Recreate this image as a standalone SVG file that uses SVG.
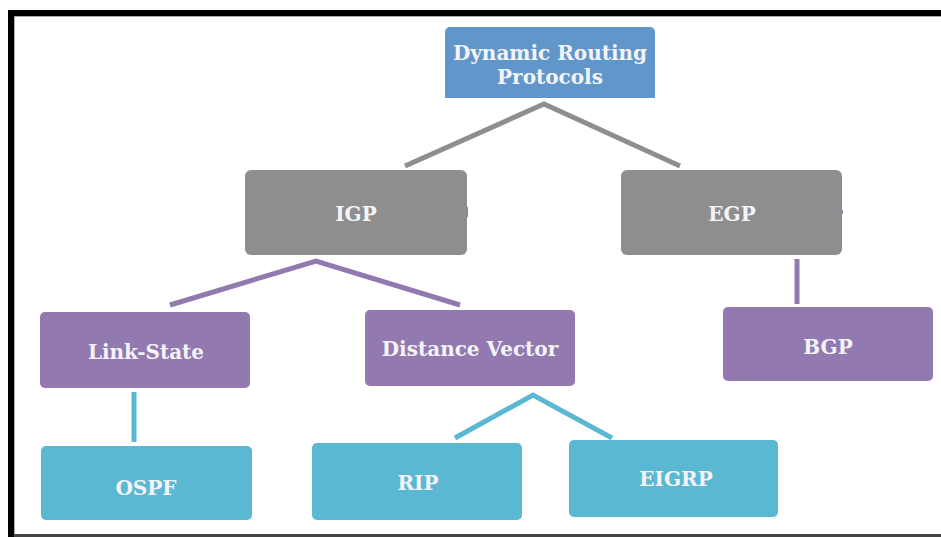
<svg xmlns="http://www.w3.org/2000/svg" width="941" height="537" viewBox="0 0 941 537">
<style>
  .t { font-family: "DejaVu Serif", "Liberation Serif", serif; font-size: 20px; font-weight: bold; fill: #f4f4f8; text-anchor: middle; dominant-baseline: central; }
  .blue { fill: #6096ca; }
  .gray { fill: #8e8e8e; }
  .purple { fill: #9279b0; }
  .cyan { fill: #5bb8d2; }
  .cg { stroke: #8e8e8e; stroke-width: 5; fill: none; }
  .cp { stroke: #9279b0; stroke-width: 5; fill: none; }
  .cc { stroke: #5bb8d2; stroke-width: 5; fill: none; }
</style>
<rect x="0" y="0" width="941" height="537" fill="#ffffff"/>
<g id="frame">
  <rect x="8" y="10" width="933" height="6" fill="#000"/>
  <rect x="8" y="10" width="6" height="527" fill="#000"/>
  <line x1="14" y1="16.5" x2="941" y2="16.5" stroke="#aaaaaa" stroke-width="1"/>
  <line x1="14.5" y1="16" x2="14.5" y2="537" stroke="#aaaaaa" stroke-width="1"/>
  <rect x="14" y="534" width="927" height="3" fill="#444444"/>
</g>
<g id="connectors">
  <polyline class="cg" points="405,166 544,104 680,166"/>
  <polyline class="cp" points="170,305 316,261 460,305"/>
  <line class="cp" x1="797" y1="259" x2="797" y2="304" stroke-width="6"/>
  <line class="cc" x1="134" y1="392" x2="134" y2="442" stroke-width="6"/>
  <polyline class="cc" points="455,438 533,395 612,438"/>
  <rect x="464" y="207" width="4" height="10" class="purple"/>
  <rect x="839" y="210" width="4" height="4" class="purple"/>
</g>
<g id="dynamic">
  <path class="blue" d="M445,98 V32 a5,5 0 0 1 5,-5 H650 a5,5 0 0 1 5,5 V98 Z"/>
  <text class="t" x="550" y="53">Dynamic Routing</text>
  <text class="t" x="550" y="77">Protocols</text>
</g>
<g id="igp">
  <rect class="gray" x="245" y="170" width="222" height="85" rx="6"/>
  <text class="t" x="356" y="214">IGP</text>
</g>
<g id="egp">
  <rect class="gray" x="621" y="170" width="221" height="85" rx="6"/>
  <text class="t" x="732" y="214">EGP</text>
</g>
<g id="linkstate">
  <rect class="purple" x="40" y="312" width="210" height="76" rx="5"/>
  <text class="t" x="146" y="352">Link-State</text>
</g>
<g id="distancevector">
  <rect class="purple" x="365" y="310" width="210" height="76" rx="5"/>
  <text class="t" x="470" y="349">Distance Vector</text>
</g>
<g id="bgp">
  <rect class="purple" x="723" y="307" width="210" height="74" rx="5"/>
  <text class="t" x="828" y="347">BGP</text>
</g>
<g id="ospf">
  <rect class="cyan" x="41" y="446" width="211" height="74" rx="5"/>
  <text class="t" x="146" y="488">OSPF</text>
</g>
<g id="rip">
  <rect class="cyan" x="312" y="443" width="210" height="77" rx="5"/>
  <text class="t" x="418" y="483">RIP</text>
</g>
<g id="eigrp">
  <rect class="cyan" x="569" y="440" width="209" height="77" rx="5"/>
  <text class="t" x="676" y="479">EIGRP</text>
</g>
</svg>
